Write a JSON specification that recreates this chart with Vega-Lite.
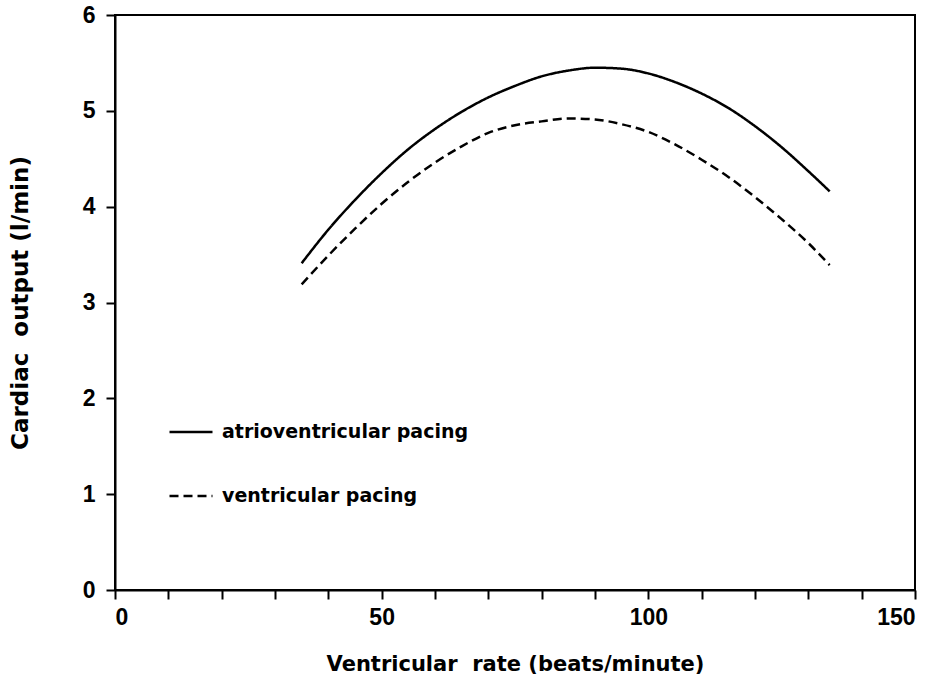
{
  "$schema": "https://vega.github.io/schema/vega-lite/v6.json",
  "width": 800,
  "height": 575,
  "autosize": {"type": "none"},
  "padding": {"left": 115, "top": 15, "right": 31, "bottom": 90},
  "background": "white",
  "config": {
    "font": "Liberation Sans",
    "view": {"stroke": "black", "strokeWidth": 2},
    "axis": {
      "domainColor": "black",
      "domainWidth": 2,
      "tickColor": "black",
      "tickWidth": 2,
      "tickSize": 9,
      "grid": false,
      "labelFont": "Liberation Sans",
      "labelFontWeight": "bold",
      "labelFontSize": 23,
      "labelColor": "black",
      "titleFont": "DejaVu Sans",
      "titleFontWeight": "bold",
      "titleFontSize": 21,
      "titleColor": "black"
    }
  },
  "data": {
    "values": [
      {"rate": 35, "output": 3.41, "mode": "atrioventricular pacing"},
      {"rate": 40, "output": 3.76, "mode": "atrioventricular pacing"},
      {"rate": 45, "output": 4.07, "mode": "atrioventricular pacing"},
      {"rate": 50, "output": 4.35, "mode": "atrioventricular pacing"},
      {"rate": 55, "output": 4.6, "mode": "atrioventricular pacing"},
      {"rate": 60, "output": 4.81, "mode": "atrioventricular pacing"},
      {"rate": 65, "output": 4.99, "mode": "atrioventricular pacing"},
      {"rate": 70, "output": 5.14, "mode": "atrioventricular pacing"},
      {"rate": 75, "output": 5.26, "mode": "atrioventricular pacing"},
      {"rate": 80, "output": 5.36, "mode": "atrioventricular pacing"},
      {"rate": 85, "output": 5.42, "mode": "atrioventricular pacing"},
      {"rate": 90, "output": 5.45, "mode": "atrioventricular pacing"},
      {"rate": 95, "output": 5.44, "mode": "atrioventricular pacing"},
      {"rate": 100, "output": 5.39, "mode": "atrioventricular pacing"},
      {"rate": 105, "output": 5.3, "mode": "atrioventricular pacing"},
      {"rate": 110, "output": 5.18, "mode": "atrioventricular pacing"},
      {"rate": 115, "output": 5.03, "mode": "atrioventricular pacing"},
      {"rate": 120, "output": 4.84, "mode": "atrioventricular pacing"},
      {"rate": 125, "output": 4.62, "mode": "atrioventricular pacing"},
      {"rate": 130, "output": 4.37, "mode": "atrioventricular pacing"},
      {"rate": 134, "output": 4.16, "mode": "atrioventricular pacing"},
      {"rate": 35, "output": 3.19, "mode": "ventricular pacing"},
      {"rate": 40, "output": 3.49, "mode": "ventricular pacing"},
      {"rate": 45, "output": 3.77, "mode": "ventricular pacing"},
      {"rate": 50, "output": 4.03, "mode": "ventricular pacing"},
      {"rate": 55, "output": 4.26, "mode": "ventricular pacing"},
      {"rate": 60, "output": 4.46, "mode": "ventricular pacing"},
      {"rate": 65, "output": 4.63, "mode": "ventricular pacing"},
      {"rate": 70, "output": 4.77, "mode": "ventricular pacing"},
      {"rate": 75, "output": 4.85, "mode": "ventricular pacing"},
      {"rate": 80, "output": 4.89, "mode": "ventricular pacing"},
      {"rate": 85, "output": 4.92, "mode": "ventricular pacing"},
      {"rate": 90, "output": 4.91, "mode": "ventricular pacing"},
      {"rate": 95, "output": 4.86, "mode": "ventricular pacing"},
      {"rate": 100, "output": 4.78, "mode": "ventricular pacing"},
      {"rate": 105, "output": 4.65, "mode": "ventricular pacing"},
      {"rate": 110, "output": 4.49, "mode": "ventricular pacing"},
      {"rate": 115, "output": 4.31, "mode": "ventricular pacing"},
      {"rate": 120, "output": 4.1, "mode": "ventricular pacing"},
      {"rate": 125, "output": 3.87, "mode": "ventricular pacing"},
      {"rate": 130, "output": 3.62, "mode": "ventricular pacing"},
      {"rate": 134, "output": 3.39, "mode": "ventricular pacing"}
    ]
  },
  "mark": {"type": "line", "interpolate": "monotone", "color": "black", "strokeWidth": 2.5},
  "encoding": {
    "x": {
      "field": "rate",
      "type": "quantitative",
      "scale": {"domain": [0, 150], "nice": false},
      "axis": {
        "title": "Ventricular\u00a0 rate (beats/minute)",
        "values": [0, 10, 20, 30, 40, 50, 60, 70, 80, 90, 100, 110, 120, 130, 140, 150],
        "labelExpr": "datum.value % 50 === 0 ? datum.label : ''",
        "labelPadding": 7,
        "titlePadding": 24
      }
    },
    "y": {
      "field": "output",
      "type": "quantitative",
      "scale": {"domain": [0, 6], "nice": false},
      "axis": {
        "title": "Cardiac\u00a0 output (l/min)",
        "titleFontSize": 23,
        "values": [0, 1, 2, 3, 4, 5, 6],
        "labelPadding": 11,
        "titlePadding": 50
      }
    },
    "strokeDash": {
      "field": "mode",
      "type": "nominal",
      "scale": {
        "domain": ["atrioventricular pacing", "ventricular pacing"],
        "range": [[1, 0], [9, 5]]
      },
      "legend": {
        "title": null,
        "orient": "none",
        "legendX": 53,
        "legendY": 394,
        "padding": 0,
        "symbolType": "stroke",
        "symbolSize": 1849,
        "symbolStrokeWidth": 2.5,
        "symbolStrokeColor": "black",
        "labelFont": "DejaVu Sans",
        "labelFontWeight": "bold",
        "labelFontSize": 19,
        "labelColor": "black",
        "labelOffset": 8,
        "labelLimit": 400,
        "rowPadding": 31
      }
    }
  }
}
